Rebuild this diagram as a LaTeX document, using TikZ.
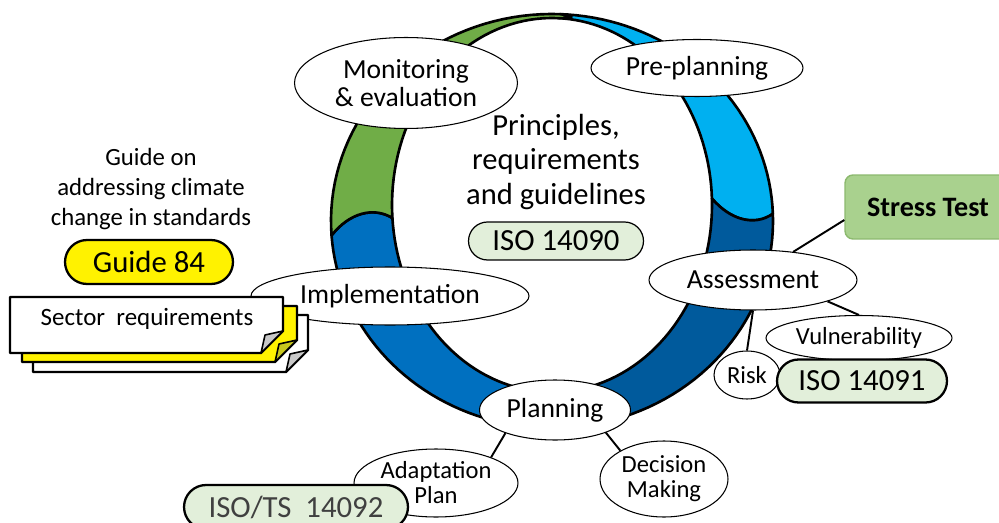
\documentclass[tikz,border=0pt]{standalone}
\usepackage{fontspec}
\setmainfont{Carlito}
\usetikzlibrary{shapes}
\usetikzlibrary{calc}

\definecolor{ringgreen}{HTML}{70AD47}
\definecolor{ringcyan}{HTML}{00B0F0}
\definecolor{ringdark}{HTML}{005A9C}
\definecolor{ringblue}{HTML}{0070C0}
\definecolor{isogreen}{HTML}{E2EFDA}
\definecolor{stressgreen}{HTML}{A9D18E}
\definecolor{stressline}{HTML}{8CB96E}
\definecolor{flapyellow}{HTML}{C8C81E}
\definecolor{flapgray}{HTML}{C8C8C8}

% ring geometry, in pixels
\def\ocx{552}\def\ocy{221}\def\orx{221}\def\ory{207}
\def\icx{552}\def\icy{205}\def\irx{160}\def\iry{187}
\newcommand{\ringx}[2]{(1-#2)*(\ocx+\orx*cos(#1))+#2*(\icx+\irx*cos(#1))}
\newcommand{\ringy}[2]{(1-#2)*(\ocy+\ory*sin(#1))+#2*(\icy+\iry*sin(#1))}
\newcommand{\ringpart}[3]{%
	\filldraw[fill=#3, draw=black, line width=1.5pt, line join=round]
		plot[domain=#1:#2, samples=40] ({\ringx{\x}{0}},{\ringy{\x}{0}})
		.. controls ({\ringx{#2+5}{0.3}},{\ringy{#2+5}{0.3}}) and ({\ringx{#2+5}{0.7}},{\ringy{#2+5}{0.7}}) .. ({\ringx{#2}{1}},{\ringy{#2}{1}})
		-- plot[domain=#2:#1, samples=40] ({\ringx{\x}{1}},{\ringy{\x}{1}})
		.. controls ({\ringx{#1+5}{0.7}},{\ringy{#1+5}{0.7}}) and ({\ringx{#1+5}{0.3}},{\ringy{#1+5}{0.3}}) .. cycle;}
% sticky note: left, top, right, bottom, fill, flap
\newcommand{\stickynote}[6]{%
	\filldraw[fill=#5, line width=1.4pt, line join=round] (#1,#2) -- (#3,#2) -- (#3,#4-22) -- (#3-22,#4) -- (#1,#4) -- cycle;
	\filldraw[fill=#6, line width=0.9pt, line join=round] (#3,#4-22) -- (#3-22,#4) -- (#3-18,#4-18) -- cycle;}

\begin{document}
\begin{tikzpicture}[x=0.02cm, y=-0.02cm, line width=1.1pt,
		Bubble/.style={draw, shape=ellipse, fill=white, line width=0.6pt, inner sep=0pt, align=center, font=\fontsize{15.7}{15.5}\selectfont},
		SmallBubble/.style={Bubble, font=\fontsize{14}{14.2}\selectfont},
		Iso/.style={draw, shape=rounded rectangle, fill=isogreen, inner sep=0pt, font=\fontsize{17.5}{20}\selectfont}]
	\useasboundingbox (0,0) rectangle (999,523);
	\clip (0,0) rectangle (999,523);

	% the cycle
	\ringpart{272}{358}{ringcyan}
	\ringpart{358}{450}{ringdark}
	\ringpart{90}{176}{ringblue}
	\ringpart{176}{272}{ringgreen}

	\node [Bubble, minimum width=4.46cm, minimum height=1.82cm] (Monitoring) at (406,83) {Monitoring\\ \& evaluation};
	\node [Bubble, minimum width=4.24cm, minimum height=1.14cm] (Preplanning) at (697,68) {Pre-planning};
	\node [align=center, font=\fontsize{17.4}{19.8}\selectfont] (Principles) at (556,162) {Principles,\\ requirements\\ and guidelines};
	\node [Iso, line width=0.7pt, minimum width=3.5cm, minimum height=0.76cm] (Iso90) at (556,241) {ISO 14090};
	\node [Bubble, minimum width=5.56cm, minimum height=1.16cm] (Implementation) at (390,296) {Implementation};

	% guide and sector notes
	\stickynote{33}{315}{308}{372}{white}{flapgray}
	\stickynote{22}{306}{297}{362}{yellow}{flapyellow}
	\stickynote{10}{297}{283}{353}{white}{flapgray}
	\node [font=\fontsize{14.2}{17}\selectfont] (Sector) at (147,319) {Sector\ \ requirements};
	\node [align=center, font=\fontsize{14.1}{17}\selectfont] (GuideText) at (151,189) {Guide on\\ addressing climate\\ change in standards};
	\node [Iso, fill=yellow, line width=1.3pt, minimum width=3.36cm, minimum height=0.88cm] (Guide84) at (149,262) {Guide 84};

	% assessment branch
	\node [Bubble, minimum width=4.16cm, minimum height=1.2cm] (Assessment) at (753,280) {Assessment};
	\node [draw=stressline, fill=stressgreen, rounded corners=0.16cm, line width=0.8pt, minimum width=3.32cm, minimum height=1.28cm, font=\fontsize{16}{19}\selectfont\bfseries] (Stress) at (928,207) {Stress Test};
	\node [SmallBubble, minimum width=3.72cm, minimum height=0.9cm] (Vulnerability) at (859,338) {Vulnerability};
	\node [SmallBubble, minimum width=1.32cm, minimum height=0.96cm] (Risk) at (747,375) {Risk};
	\node [Iso, line width=1.3pt, minimum width=3.4cm, minimum height=0.86cm] (Iso91) at (862,381) {ISO 14091};
	\draw ($(Stress.west)+(0,13)$) -- (Assessment.35);
	\draw (Assessment.-16) -- (Vulnerability.north);
	\draw (Assessment.south) -- (Risk.north);

	% planning branch
	\node [Bubble, minimum width=3.02cm, minimum height=1.2cm] (Planning) at (555,410) {Planning};
	\node [SmallBubble, minimum width=3.28cm, minimum height=1.36cm] (Adaptation) at (436,483) {Adaptation\\ Plan};
	\node [SmallBubble, minimum width=2.56cm, minimum height=1.52cm] (Decision) at (664,479) {Decision\\ Making};
	\node [Iso, line width=1.3pt, text=black!75, minimum width=4.48cm, minimum height=0.88cm] (Iso92) at (296,507) {ISO/TS\ \ 14092};
	\draw (Planning.205) -- (Adaptation.25);
	\draw (Planning.-24) -- (Decision.147);
\end{tikzpicture}
\end{document}
